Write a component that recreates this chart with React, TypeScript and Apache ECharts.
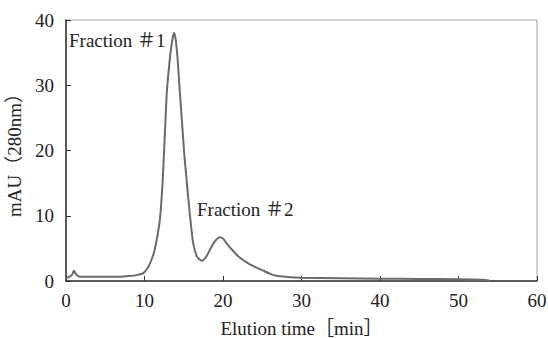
import React, { useEffect, useRef } from "react";
import * as echarts from "echarts";

const timeMin: number[] = [
  0, 0.5, 0.8, 1.0, 1.3, 1.7, 3, 5, 7, 8, 9, 9.85, 10.5, 11.0, 11.3, 11.7, 12.0, 12.3, 12.5, 12.65, 12.85,
  13.25, 13.55, 13.76, 13.95, 14.2, 14.5, 14.8, 15.05, 15.4, 15.8, 16.2, 16.7, 17.3, 17.8, 18.3, 18.8, 19.2,
  19.6, 20.0, 20.5, 21.3, 22, 23, 24, 25.1, 26, 26.8, 28, 30, 35, 40, 45, 50, 53, 54,
];
const absorbance: number[] = [
  0.4, 0.7, 1.0, 1.6, 1.0, 0.7, 0.65, 0.65, 0.65, 0.75, 0.9, 1.2, 2.2, 3.6, 4.8, 7.3, 9.9, 15, 20, 24, 29,
  34.3, 37, 38, 37.2, 34.3, 29, 24, 19.7, 15, 9.9, 5.8, 3.7, 3.1, 3.6, 4.7, 5.8, 6.4,
  6.7, 6.5, 5.7, 4.6, 3.7, 2.85, 2.2, 1.6, 1.1, 0.8, 0.65, 0.5, 0.42, 0.36, 0.32, 0.28, 0.2, 0.05,
];
const xTitle = "Elution time［min］";
const yTitle = "mAU（280nm）";
const peakLabels: string[] = ["Fraction ＃1", "Fraction ＃2"];

const FONT = "'Liberation Serif', 'Noto Sans CJK JP', serif";
const FS = 19;

export default function App() {
  const ref = useRef<HTMLDivElement>(null);
  useEffect(() => {
    if (!ref.current) return;
    const chart = echarts.init(ref.current, undefined, { renderer: "svg" });
    const data = timeMin.map((t, i) => [t, absorbance[i]]);
    chart.setOption({
      animation: false,
      backgroundColor: "#ffffff",
      grid: {
        left: 66,
        right: 11,
        top: 20,
        bottom: 57,
        show: true,
        borderColor: "#a0a0a0",
        borderWidth: 1,
        containLabel: false,
        outerBoundsMode: "none",
      },
      xAxis: {
        type: "value",
        min: 0,
        max: 60,
        interval: 10,
        name: xTitle,
        nameLocation: "middle",
        nameGap: 38,
        nameTextStyle: { fontFamily: FONT, fontSize: FS, lineHeight: 19, color: "#222" },
        axisLine: { lineStyle: { color: "#333", width: 1.5 } },
        axisTick: { inside: true, length: 5, lineStyle: { color: "#333" } },
        axisLabel: { fontFamily: FONT, fontSize: FS, color: "#222", margin: 10 },
        splitLine: { show: false },
      },
      yAxis: {
        type: "value",
        min: 0,
        max: 40,
        interval: 10,
        name: yTitle,
        nameLocation: "middle",
        nameGap: 40,
        nameTextStyle: { fontFamily: FONT, fontSize: FS, color: "#222" },
        axisLine: { show: true, lineStyle: { color: "#333", width: 1.5 } },
        axisTick: { show: true, inside: true, length: 5, lineStyle: { color: "#333" } },
        axisLabel: { fontFamily: FONT, fontSize: FS, color: "#222", margin: 12 },
        splitLine: { show: false },
      },
      series: [
        {
          type: "line",
          data,
          smooth: 0.2,
          showSymbol: false,
          lineStyle: { color: "#6a6a6a", width: 2 },
        },
      ],
      graphic: [
        {
          type: "text",
          left: 69,
          top: 31,
          style: { text: peakLabels[0], font: `${FS}px ${FONT}`, fill: "#222" },
        },
        {
          type: "text",
          left: 197,
          top: 200,
          style: { text: peakLabels[1], font: `${FS}px ${FONT}`, fill: "#222" },
        },
      ],
    });
    return () => chart.dispose();
  }, []);
  return <div ref={ref} style={{ position: "absolute", left: 0, top: 0, width: 548, height: 338 }} />;
}
